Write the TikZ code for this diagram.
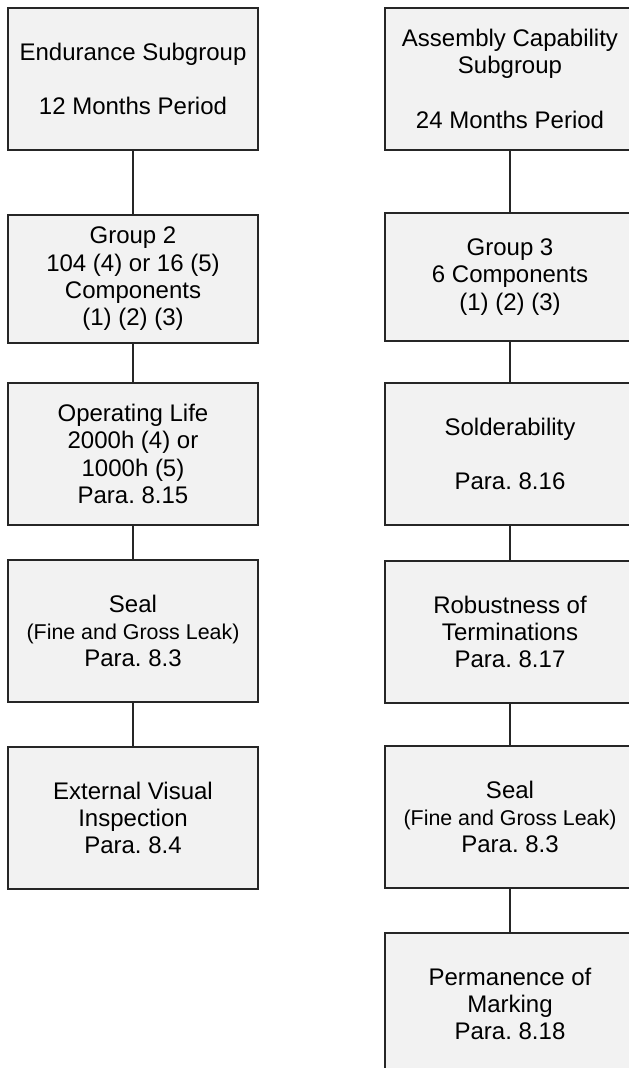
\documentclass[tikz,border=0pt]{standalone}
\usepackage{fontspec}
\setmainfont{Liberation Sans}
\usetikzlibrary{positioning}
\frenchspacing

\begin{document}
\begin{tikzpicture}[
boxnode/.style={rectangle, draw=black!85, fill=black!5, line width=1pt, outer sep=0pt, minimum width=125pt, minimum height=71pt, inner sep=2pt, align=center, font=\fontsize{12}{13.7}\selectfont},
flatbox/.style={boxnode, minimum height=64pt},
link/.style={draw=black!85, line width=0.65pt},
]
\newcommand{\leaktext}{{\fontsize{10.7}{12}\selectfont (Fine and Gross Leak)}}
\useasboundingbox (0,0) rectangle (314pt,-534pt);

%Nodes
\node[boxnode]  (e1) at (66.5pt,-39.5pt) {Endurance Subgroup\\~\\12 Months Period};
\node[flatbox]  (e2) [below=32.5pt of e1] {Group 2\\104 (4) or 16 (5)\\Components\\(1) (2) (3)};
\node[boxnode]  (e3) [below=20pt of e2] {Operating Life\\2000h (4) or\\1000h (5)\\Para. 8.15};
\node[boxnode]  (e4) [below=17.5pt of e3] {Seal\\\leaktext\\Para. 8.3};
\node[boxnode]  (e5) [below=22.5pt of e4] {External Visual\\Inspection\\Para. 8.4};

\node[boxnode]  (a1) at (255pt,-39.5pt) {Assembly Capability\\Subgroup\\~\\24 Months Period};
\node[flatbox]  (a2) [below=31.5pt of a1] {Group 3\\6 Components\\(1) (2) (3)};
\node[boxnode]  (a3) [below=21pt of a2] {Solderability\\~\\Para. 8.16};
\node[boxnode]  (a4) [below=18pt of a3] {Robustness of\\Terminations\\Para. 8.17};
\node[boxnode]  (a5) [below=21.5pt of a4] {Seal\\\leaktext\\Para. 8.3};
\node[boxnode]  (a6) [below=22.5pt of a5] {Permanence of\\Marking\\Para. 8.18};

%Lines
\draw[link] (e1) -- (e2);
\draw[link] (e2) -- (e3);
\draw[link] (e3) -- (e4);
\draw[link] (e4) -- (e5);

\draw[link] (a1) -- (a2);
\draw[link] (a2) -- (a3);
\draw[link] (a3) -- (a4);
\draw[link] (a4) -- (a5);
\draw[link] (a5) -- (a6);

\end{tikzpicture}
\end{document}
